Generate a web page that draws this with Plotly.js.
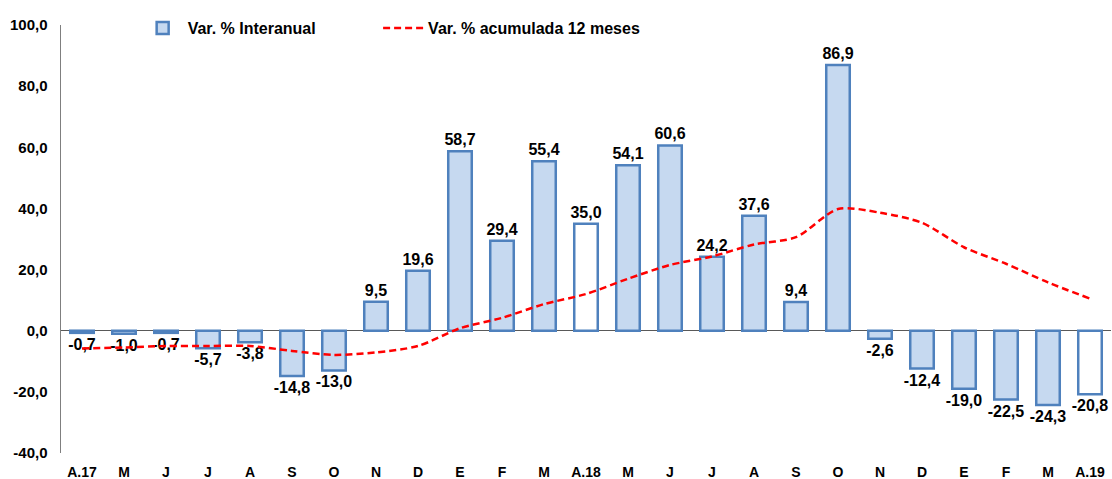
<!DOCTYPE html>
<html>
<head>
<meta charset="utf-8">
<script src="https://cdn.plot.ly/plotly-3.0.1.min.js"></script>
<style>
  html, body { margin: 0; padding: 0; background: #fff; }
  #chart { width: 1112px; height: 479px; }
</style>
</head>
<body>
<div id="chart"></div>
<script>
// month labels (abril 2017 .. abril 2019)
const months = ["A.17", "M", "J", "J", "A", "S", "O", "N", "D", "E", "F", "M",
  "A.18", "M", "J", "J", "A", "S", "O", "N", "D", "E", "F", "M", "A.19"];

const interanual = [-0.7, -1.0, -0.7, -5.7, -3.8, -14.8, -13.0, 9.5, 19.6, 58.7, 29.4, 55.4,
  35.0, 54.1, 60.6, 24.2, 37.6, 9.4, 86.9, -2.6, -12.4, -19.0, -22.5, -24.3, -20.8];

const acumulada = [-5.8, -5.5, -5.0, -5.0, -5.0, -6.6, -7.9, -7.1, -5.0, 0.8, 4.2, 8.7,
  12.0, 17.0, 21.5, 24.3, 28.2, 30.6, 39.8, 38.6, 35.3, 27.3, 21.9, 15.8, 10.5];

const yTicks = [-40, -20, 0, 20, 40, 60, 80, 100];

// bars left empty in the original (A.18, A.19)
const emptyBars = ["A.18", "A.19"];

const pos = months.map((m, i) => i);
const fmt = v => v.toFixed(1).replace(".", ",");
const fills = months.map(m => emptyBars.includes(m) ? "#ffffff" : "#c6d9f0");

let bars = {
  type: "bar",
  name: "Var. % Interanual",
  x: pos,
  y: interanual,
  width: 0.56,
  marker: { color: fills, line: { color: "#4f81bd", width: 2.5 } },
  text: interanual.map(fmt),
  textposition: "outside",
  constraintext: "none",
  cliponaxis: false,
  textfont: { family: "Liberation Sans, Arial", size: 16, color: "#000", weight: "bold" },
  hoverinfo: "skip",
  legend: "legend"
};

let line = {
  type: "scatter",
  mode: "lines",
  name: "Var. % acumulada 12 meses",
  x: pos,
  y: acumulada,
  line: { color: "#ff0000", width: 2.5, dash: "7px,4px", shape: "spline", smoothing: 0.8 },
  hoverinfo: "skip",
  legend: "legend2"
};

// two legends so each entry sits where it does in the original
let legendBase = {
  orientation: "h",
  y: 0.993,
  xanchor: "left", yanchor: "middle",
  font: { size: 16, weight: "bold" },
  itemwidth: 40,
  bgcolor: "rgba(0,0,0,0)"
};

let layout = {
  width: 1112,
  height: 479,
  margin: { l: 61, r: 1, t: 25, b: 26 },
  paper_bgcolor: "#fff",
  plot_bgcolor: "#fff",
  showlegend: true,
  font: { family: "Liberation Sans, Arial", size: 14, color: "#000", weight: "bold" },
  legend: Object.assign({}, legendBase, { x: 0.073 }),
  legend2: Object.assign({}, legendBase, { x: 0.302 }),
  bargap: 0.44,
  xaxis: {
    range: [-0.5, months.length - 0.5],
    tickmode: "array",
    tickvals: pos,
    ticktext: months,
    showgrid: false,
    zeroline: false,
    showline: false,
    ticks: "",
    ticklabelstandoff: 9,
    tickfont: { size: 14, weight: "bold" }
  },
  yaxis: {
    range: [-40, 100],
    tickmode: "array",
    tickvals: yTicks,
    ticktext: yTicks.map(fmt),
    showgrid: false,
    zeroline: true,
    zerolinecolor: "#595959",
    zerolinewidth: 1.5,
    showline: true,
    linecolor: "#7f7f7f",
    linewidth: 1.5,
    ticks: "",
    ticklabelstandoff: 9,
    tickfont: { size: 15, weight: "bold" }
  }
};

Plotly.newPlot("chart", [bars, line], layout, { displayModeBar: false, staticPlot: true });
</script>
</body>
</html>
